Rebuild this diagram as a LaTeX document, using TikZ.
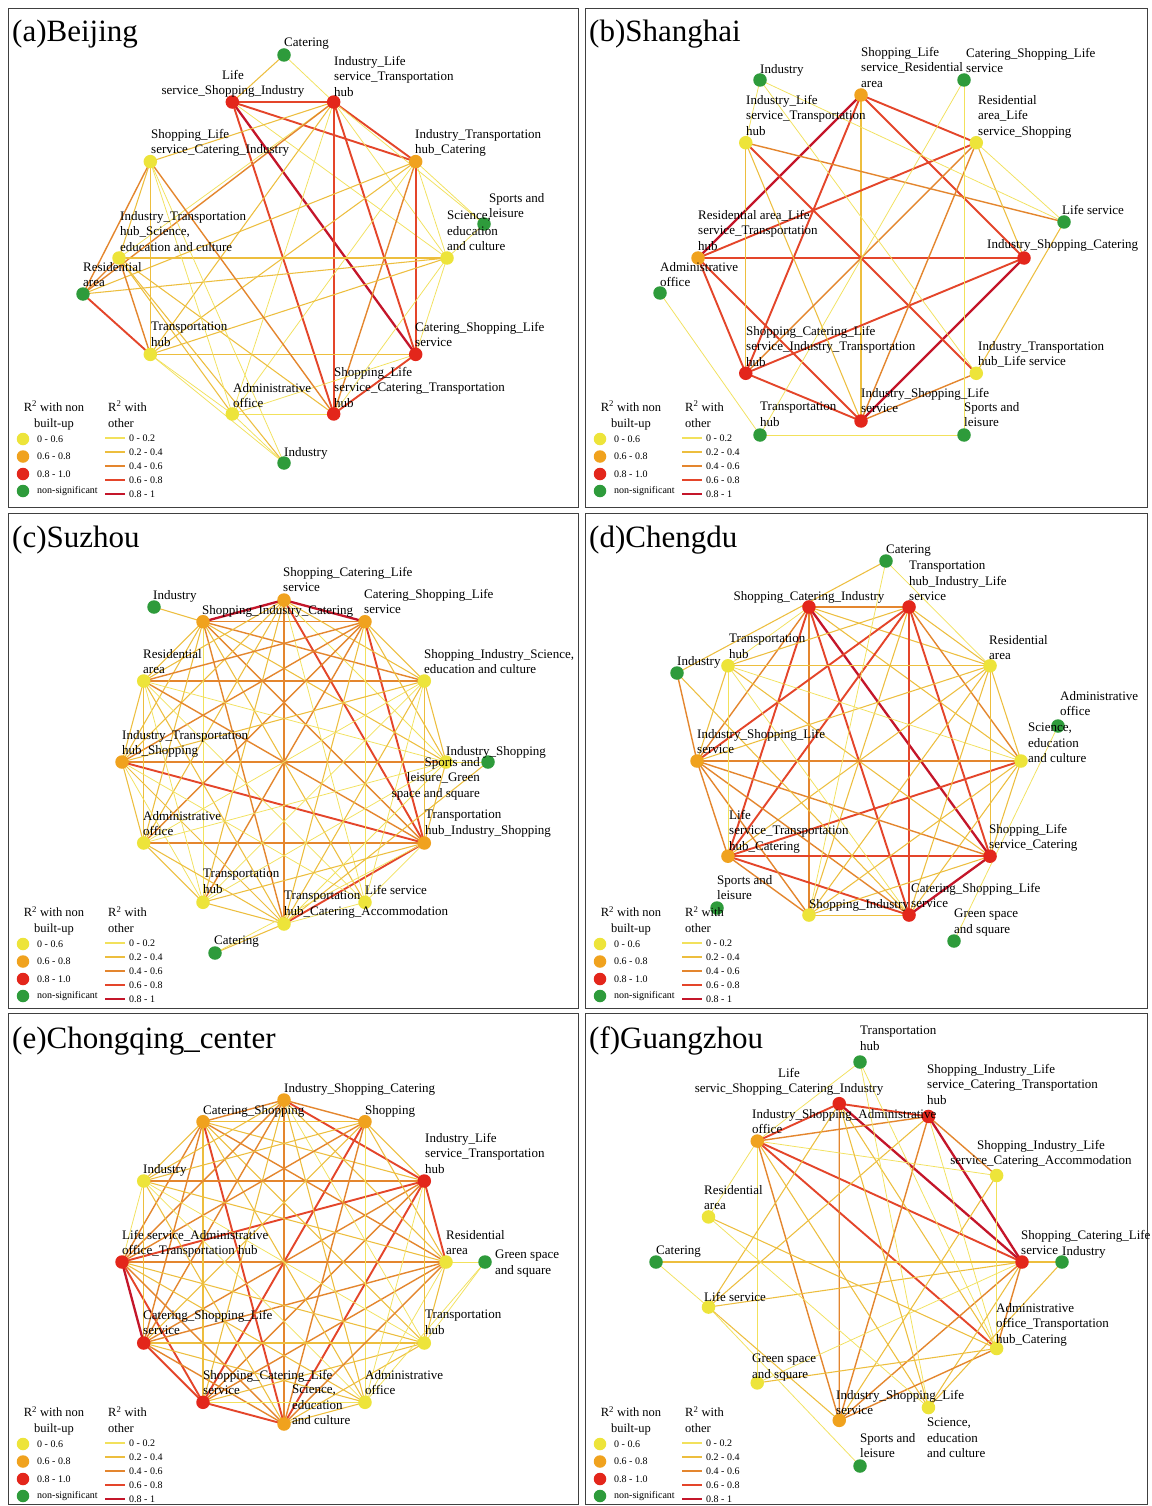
\documentclass[tikz,border=0pt]{standalone}
\usepackage{fontspec}
\setmainfont{Liberation Serif}
\usetikzlibrary{calc}
\pgfdeclarelayer{bgl}
\pgfdeclarelayer{edges}
\pgfsetlayers{bgl,edges,main}
\definecolor{cy}{HTML}{EDE43A}
\definecolor{co}{HTML}{F0A21E}
\definecolor{cr}{HTML}{E3261B}
\definecolor{cg}{HTML}{2E9B3B}
\definecolor{l1}{HTML}{F2E15C}
\definecolor{l2}{HTML}{EDBE3E}
\definecolor{l3}{HTML}{E4862E}
\definecolor{l4}{HTML}{E4452A}
\definecolor{l5}{HTML}{C4162A}
\tikzset{
 nd/.style={circle,inner sep=0pt,minimum size=13.5pt},
 ny/.style={nd,fill=cy}, no/.style={nd,fill=co}, nr/.style={nd,fill=cr}, ng/.style={nd,fill=cg},
 w1/.style={draw=l1,line width=0.75pt},
 w2/.style={draw=l2,line width=1.05pt},
 w3/.style={draw=l3,line width=1.4pt},
 w4/.style={draw=l4,line width=1.9pt},
 w5/.style={draw=l5,line width=2.3pt},
 lab/.style={font=\fontsize{13}{15.4}\selectfont,inner sep=0pt,align=left},
 ttl/.style={font=\fontsize{31}{32}\selectfont,inner sep=0pt,anchor=base west},
 lgh/.style={font=\fontsize{12.5}{16}\selectfont,inner sep=0pt,align=center},
 lgt/.style={font=\fontsize{10}{11}\selectfont,inner sep=0pt,anchor=west},
 panelbox/.style={draw=black!75,line width=0.9pt},
}
\newcounter{lbc}
\newcommand\rn[5]{\node[#1] (#2) at ($(#3)+(#4:#5pt)$) {};}
\newcommand\LL[3]{\stepcounter{lbc}\node[lab,anchor=north west] (t\arabic{lbc}) at (#1,#2-5) {#3};}
\newcommand\LC[3]{\stepcounter{lbc}\node[lab,align=center,anchor=north] (t\arabic{lbc}) at (#1,#2-5) {#3};}
\newcommand\LR[3]{\stepcounter{lbc}\node[lab,align=right,anchor=north east] (t\arabic{lbc}) at (#1,#2-5) {#3};}
\newcommand\lgnd[2]{%
\stepcounter{lbc}%
\node[lgh,anchor=north] (h\arabic{lbc}a) at (#1+46,#2+393) {R\textsuperscript{2} with non\\built-up};
\node[lgh,align=left,anchor=north west] (h\arabic{lbc}b) at (#1+100,#2+393) {R\textsuperscript{2} with\\other};
\node[ny,minimum size=12.5pt] (h\arabic{lbc}c) at (#1+15,#2+431) {};
\node[no,minimum size=12.5pt] (h\arabic{lbc}d) at (#1+15,#2+448.5) {};
\node[nr,minimum size=12.5pt] (h\arabic{lbc}e) at (#1+15,#2+466) {};
\node[ng,minimum size=12.5pt] (h\arabic{lbc}f) at (#1+15,#2+483) {};
\node[lgt] (h\arabic{lbc}g) at (#1+29,#2+431) {0 - 0.6};
\node[lgt] (h\arabic{lbc}h) at (#1+29,#2+448.5) {0.6 - 0.8};
\node[lgt] (h\arabic{lbc}i) at (#1+29,#2+466) {0.8 - 1.0};
\node[lgt] (h\arabic{lbc}j) at (#1+29,#2+483) {non-significant};
\coordinate (h\arabic{lbc}p1) at (#1+97,#2+430); \coordinate (h\arabic{lbc}q1) at (#1+117,#2+430);
\coordinate (h\arabic{lbc}p2) at (#1+97,#2+444); \coordinate (h\arabic{lbc}q2) at (#1+117,#2+444);
\coordinate (h\arabic{lbc}p3) at (#1+97,#2+458); \coordinate (h\arabic{lbc}q3) at (#1+117,#2+458);
\coordinate (h\arabic{lbc}p4) at (#1+97,#2+472); \coordinate (h\arabic{lbc}q4) at (#1+117,#2+472);
\coordinate (h\arabic{lbc}p5) at (#1+97,#2+486); \coordinate (h\arabic{lbc}q5) at (#1+117,#2+486);
\draw[w1,line width=1.3pt] (h\arabic{lbc}p1) -- (h\arabic{lbc}q1);
\draw[w2,line width=1.4pt] (h\arabic{lbc}p2) -- (h\arabic{lbc}q2);
\draw[w3,line width=1.6pt] (h\arabic{lbc}p3) -- (h\arabic{lbc}q3);
\draw[w4,line width=1.8pt] (h\arabic{lbc}p4) -- (h\arabic{lbc}q4);
\draw[w5,line width=2pt] (h\arabic{lbc}p5) -- (h\arabic{lbc}q5);
\node[lgt] (h\arabic{lbc}k) at (#1+121,#2+430) {0 - 0.2};
\node[lgt] (h\arabic{lbc}l) at (#1+121,#2+444) {0.2 - 0.4};
\node[lgt] (h\arabic{lbc}m) at (#1+121,#2+458) {0.4 - 0.6};
\node[lgt] (h\arabic{lbc}n) at (#1+121,#2+472) {0.6 - 0.8};
\node[lgt] (h\arabic{lbc}o) at (#1+121,#2+486) {0.8 - 1};
}
\begin{document}
\begin{tikzpicture}[x=1pt,y=-1pt]
\begin{pgfonlayer}{bgl}
\fill[white] (0,0) rectangle (1151,1506);
\end{pgfonlayer}
\useasboundingbox (0,0) rectangle (1151,1506);
% panel frames
\draw[panelbox] (8,8) rectangle (578,507);
\draw[panelbox] (585,8) rectangle (1147,507);
\draw[panelbox] (8,513) rectangle (578,1008);
\draw[panelbox] (585,513) rectangle (1147,1008);
\draw[panelbox] (8,1013) rectangle (578,1504);
\draw[panelbox] (585,1013) rectangle (1147,1504);
% ---------- (a) Beijing
\coordinate (cA) at (283,258);
\rn{ny}{A0}{cA}{0}{164} \rn{no}{A1}{cA}{36}{164} \rn{nr}{A2}{cA}{72}{164}
\rn{nr}{A3}{cA}{108}{164} \rn{ny}{A4}{cA}{144}{164} \rn{ny}{A5}{cA}{180}{164}
\rn{ny}{A6}{cA}{216}{164} \rn{ny}{A7}{cA}{252}{164} \rn{nr}{A8}{cA}{288}{164}
\rn{nr}{A9}{cA}{324}{164}
\node[ng] (aCat) at (284,55) {}; \node[ng] (aInd) at (284,463) {};
\node[ng] (aRes) at (83,294) {}; \node[ng] (aSpo) at (484,224) {};
% ---------- (b) Shanghai
\coordinate (cB) at (861,258);
\rn{nr}{B0}{cB}{0}{163} \rn{ny}{B1}{cB}{45}{163} \rn{no}{B2}{cB}{90}{163}
\rn{ny}{B3}{cB}{135}{163} \rn{no}{B4}{cB}{180}{163} \rn{nr}{B5}{cB}{225}{163}
\rn{nr}{B6}{cB}{270}{163} \rn{ny}{B7}{cB}{315}{163}
\node[ng] (bInd) at (760,80) {}; \node[ng] (bCat) at (964,80) {};
\node[ng] (bLife) at (1064,222) {}; \node[ng] (bAdm) at (660,293) {};
\node[ng] (bTra) at (760,435) {}; \node[ng] (bSpo) at (964,435) {};
% ---------- (c) Suzhou
\coordinate (cC) at (284,762);
\rn{ny}{C0}{cC}{0}{162} \rn{ny}{C1}{cC}{30}{162} \rn{no}{C2}{cC}{60}{162}
\rn{no}{C3}{cC}{90}{162} \rn{no}{C4}{cC}{120}{162} \rn{ny}{C5}{cC}{150}{162}
\rn{no}{C6}{cC}{180}{162} \rn{ny}{C7}{cC}{210}{162} \rn{ny}{C8}{cC}{240}{162}
\rn{ny}{C9}{cC}{270}{162} \rn{ny}{C10}{cC}{300}{162} \rn{no}{C11}{cC}{330}{162}
\node[ng] (cInd) at (154,607) {}; \node[ng] (cIS) at (488,762) {};
\node[ng] (cCat) at (215,953) {};
% ---------- (d) Chengdu
\coordinate (cD) at (859,761);
\rn{ny}{D0}{cD}{0}{162} \rn{ny}{D1}{cD}{36}{162} \rn{nr}{D2}{cD}{72}{162}
\rn{nr}{D3}{cD}{108}{162} \rn{ny}{D4}{cD}{144}{162} \rn{no}{D5}{cD}{180}{162}
\rn{no}{D6}{cD}{216}{162} \rn{ny}{D7}{cD}{252}{162} \rn{nr}{D8}{cD}{288}{162}
\rn{nr}{D9}{cD}{324}{162}
\node[ng] (dCat) at (886,561) {}; \node[ng] (dInd) at (677,673) {};
\node[ng] (dAdm) at (1058,726) {}; \node[ng] (dSpo) at (717,908) {};
\node[ng] (dGre) at (954,941) {};
% ---------- (e) Chongqing
\coordinate (cE) at (284,1262);
\rn{ny}{E0}{cE}{0}{162} \rn{nr}{E1}{cE}{30}{162} \rn{no}{E2}{cE}{60}{162}
\rn{no}{E3}{cE}{90}{162} \rn{no}{E4}{cE}{120}{162} \rn{ny}{E5}{cE}{150}{162}
\rn{nr}{E6}{cE}{180}{162} \rn{nr}{E7}{cE}{210}{162} \rn{nr}{E8}{cE}{240}{162}
\rn{no}{E9}{cE}{270}{162} \rn{ny}{E10}{cE}{300}{162} \rn{ny}{E11}{cE}{330}{162}
\node[ng] (eGre) at (485,1262) {};
% ---------- (f) Guangzhou
\coordinate (cF) at (862,1262);
\rn{nr}{F0}{cF}{0}{160} \rn{ny}{F1}{cF}{360/11}{160} \rn{nr}{F2}{cF}{720/11}{160}
\rn{nr}{F3}{cF}{1080/11}{160} \rn{no}{F4}{cF}{1440/11}{160} \rn{ny}{F5}{cF}{1800/11}{160}
\rn{ny}{F6}{cF}{2160/11}{160} \rn{ny}{F7}{cF}{2520/11}{160} \rn{no}{F8}{cF}{2880/11}{160}
\rn{ny}{F9}{cF}{3240/11}{160} \rn{ny}{F10}{cF}{3600/11}{160}
\node[ng] (fTra) at (860,1062) {}; \node[ng] (fCat) at (656,1262) {};
\node[ng] (fInd) at (1062,1262) {}; \node[ng] (fSpo) at (860,1466) {};
% ---------- edges
\begin{pgfonlayer}{edges}
\foreach \a/\b/\w in {A3/A2/w4,A3/A1/w4,A3/A9/w5,A3/A8/w4,A3/A0/w1,A2/A1/w4,
 A2/A8/w4,A2/A9/w4,A2/A0/w1,A2/A4/w2,A2/A5/w1,A2/aRes/w3,A2/A7/w1,A2/A6/w2,A2/aCat/w1,A2/aSpo/w1,
 aCat/A3/w2,A1/A9/w4,A1/A8/w3,A1/A0/w1,A1/A6/w2,A1/aRes/w2,A1/aSpo/w1,A1/A7/w1,
 A0/A5/w2,A0/aRes/w2,A0/A6/w2,A0/A9/w1,A0/A8/w1,A0/aSpo/w1,
 A9/A6/w2,A9/A7/w1,A9/A8/w4,A8/A7/w1,A8/A4/w3,A8/A5/w2,
 A7/A5/w2,A7/aInd/w1,aInd/A5/w2,aInd/A4/w1,A7/A4/w1,A4/A5/w2,A4/aRes/w3,A4/A6/w2,
 A5/aRes/w3,A5/A6/w3,aRes/A6/w4,A6/A7/w1,A6/aInd/w1}
 \draw[\w] (\a.center) -- (\b.center);
\foreach \a/\b/\w in {B4/B0/w4,B2/B4/w5,B2/B5/w4,B2/B6/w2,B2/B1/w4,B2/B0/w4,B4/B1/w4,B4/B5/w4,
 B4/B6/w4,B5/B0/w4,B5/B6/w4,B6/B0/w5,B6/B7/w3,B3/B5/w2,B3/B7/w4,B3/B6/w2,B3/bLife/w3,
 B1/B5/w3,B1/B6/w3,B1/B0/w2,bInd/B3/w1,bInd/bLife/w1,bInd/B7/w1,bCat/bSpo/w1,bCat/bTra/w1,
 bLife/B1/w1,bLife/B7/w2,bAdm/bTra/w1,bTra/bSpo/w1}
 \draw[\w] (\a.center) -- (\b.center);
\foreach \a/\b/\w in {C3/C4/w5,C3/C2/w5,C4/C2/w3,C3/C11/w4,C2/C11/w4,C6/C11/w4,C11/C9/w4,
 C3/C9/w3,C6/C0/w3,C5/C1/w3,C7/C11/w3,C4/C1/w3,C4/C11/w3,C4/C9/w3,C4/C5/w2,C4/C6/w2,C4/C7/w2,
 C4/C8/w1,C4/C10/w2,C4/C0/w2,C3/C5/w2,C3/C6/w2,C3/C7/w2,C3/C8/w2,C3/C1/w2,C3/C0/w1,C3/C10/w1,
 C2/C5/w3,C2/C6/w3,C2/C7/w3,C2/C8/w3,C2/C10/w1,C2/C1/w2,C2/C0/w2,C2/C9/w2,
 C5/C11/w3,C5/C6/w2,C5/C7/w2,C5/C9/w2,C5/C10/w1,C5/C0/w1,C5/C8/w1,
 C6/C7/w2,C6/C1/w2,C6/C9/w2,C6/C8/w1,C6/C10/w1,C7/C9/w2,C7/C8/w2,C7/C1/w1,C7/C0/w1,
 C8/C9/w2,C8/C11/w2,C8/C1/w1,C8/C0/w1,C9/C1/w2,C9/C10/w1,C9/C0/w1,C10/C11/w1,C10/C1/w1,
 C11/C0/w2,C11/C1/w2,C1/C0/w2,cInd/C4/w2,cIS/C9/w2,cIS/C0/w1,cCat/C9/w2,cCat/C11/w1}
 \draw[\w] (\a.center) -- (\b.center);
\foreach \a/\b/\w in {D3/D9/w5,D3/D2/w3,D3/D7/w3,D3/D8/w4,D3/D6/w4,D3/D5/w3,D3/D0/w2,D3/D1/w2,D3/D4/w1,
 D2/D8/w4,D2/D6/w4,D2/D5/w4,D2/D9/w4,D2/D0/w3,D2/D1/w2,D2/D4/w2,D2/D7/w2,
 D6/D0/w4,D6/D9/w4,D6/D8/w4,D6/D7/w3,D6/D5/w3,D6/D1/w2,
 D9/D8/w5,D9/D5/w3,D9/D1/w2,D9/D0/w2,D9/D4/w2,D9/D7/w2,
 D5/D0/w3,D5/D7/w3,D5/D8/w3,D5/D1/w2,D5/D4/w2,D4/D1/w2,D4/D0/w1,D4/D8/w1,D4/D6/w1,
 D1/D0/w2,D1/D7/w2,D1/D8/w2,D0/D8/w2,D0/D7/w2,D7/D8/w2,
 dCat/dInd/w2,dCat/D7/w1,dCat/D1/w1,dInd/D5/w3,dInd/D8/w2,dAdm/dGre/w1}
 \draw[\w] (\a.center) -- (\b.center);
\foreach \a/\b/\w in {E6/E7/w5,E1/E0/w4,E3/E1/w4,E3/E2/w3,E4/E3/w3,E1/E6/w4,E1/E9/w4,E1/E7/w3,E1/E8/w3,
 E2/E8/w4,E4/E9/w4,E6/E8/w4,E6/E0/w3,E5/E1/w3,E3/E9/w3,E7/E8/w4,E8/E9/w4,E7/E9/w3,E0/E7/w3,E0/E8/w3,
 E4/E0/w3,E4/E1/w2,E4/E5/w2,E4/E6/w3,E4/E7/w3,E4/E8/w2,E4/E10/w2,E4/E11/w2,E4/E2/w2,
 E3/E5/w2,E3/E6/w3,E3/E7/w3,E3/E8/w2,E3/E10/w2,E3/E11/w1,E3/E0/w2,
 E2/E5/w2,E2/E6/w3,E2/E7/w2,E2/E9/w3,E2/E10/w1,E2/E0/w2,E2/E1/w2,
 E5/E6/w1,E5/E7/w2,E5/E9/w2,E5/E0/w2,E5/E11/w1,E5/E10/w1,
 E6/E9/w3,E6/E11/w2,E6/E10/w2,E7/E11/w2,E7/E10/w2,E8/E10/w1,E8/E11/w2,
 E9/E10/w2,E9/E11/w2,E9/E0/w3,E10/E0/w1,E11/E0/w2,E11/E1/w2,E10/E1/w1,
 E0/eGre/w1,E11/eGre/w1,E10/eGre/w1}
 \draw[\w] (\a.center) -- (\b.center);
\foreach \a/\b/\w in {F3/F2/w4,F3/F4/w4,F3/F0/w5,F2/F0/w5,F4/F0/w4,F4/F10/w4,F4/F2/w3,F4/F8/w3,
 F3/F8/w3,F2/F8/w3,F2/F1/w3,F2/F10/w1,F2/F6/w2,F0/F8/w3,F0/F9/w2,F0/F10/w3,F0/F6/w2,F0/F7/w1,
 F4/F1/w1,F4/F9/w2,F4/F7/w1,F4/F5/w1,F3/F10/w2,F3/F9/w2,F3/F6/w2,F5/F10/w2,F6/F8/w2,F6/fCat/w1,
 fCat/F0/w2,F7/F10/w2,F8/F10/w3,F8/F1/w2,F1/F10/w1,fTra/F4/w1,fTra/F9/w1,fTra/F10/w1,
 fSpo/F6/w1,fInd/F9/w2,F0/fInd/w2,F5/F9/w1}
 \draw[\w] (\a.center) -- (\b.center);
\end{pgfonlayer}
% ---------- titles
\node[ttl] (ta) at (12,42) {(a)Beijing};
\node[ttl] (tb) at (589,42) {(b)Shanghai};
\node[ttl] (tc) at (12,547) {(c)Suzhou};
\node[ttl] (td) at (589,547) {(d)Chengdu};
\node[ttl] (te) at (12,1048) {(e)Chongqing\_center};
\node[ttl] (tf) at (589,1048) {(f)Guangzhou};
% ---------- labels (a)
\LL{284}{43}{Catering}
\LC{233}{75}{Life\\service\_Shopping\_Industry}
\LL{334}{61}{Industry\_Life\\service\_Transportation\\hub}
\LL{151}{134}{Shopping\_Life\\service\_Catering\_Industry}
\LL{415}{134}{Industry\_Transportation\\hub\_Catering}
\LL{489}{198}{Sports and\\leisure}
\LL{447}{216}{Science,\\education\\and culture}
\LL{120}{216}{Industry\_Transportation\\hub\_Science,\\education and culture}
\LL{83}{267}{Residential\\area}
\LL{151}{327}{Transportation\\hub}
\LL{415}{327}{Catering\_Shopping\_Life\\service}
\LL{233}{388}{Administrative\\office}
\LL{334}{372}{Shopping\_Life\\service\_Catering\_Transportation\\hub}
\LL{284}{452}{Industry}
% ---------- labels (b)
\LL{760}{69}{Industry}
\LL{861}{52}{Shopping\_Life\\service\_Residential\\area}
\LL{966}{53}{Catering\_Shopping\_Life\\service}
\LL{746}{100}{Industry\_Life\\service\_Transportation\\hub}
\LL{978}{100}{Residential\\area\_Life\\service\_Shopping}
\LL{1062}{210}{Life service}
\LL{987}{244}{Industry\_Shopping\_Catering}
\LL{698}{215}{Residential area\_Life\\service\_Transportation\\hub}
\LL{660}{267}{Administrative\\office}
\LL{746}{331}{Shopping\_Catering\_Life\\service\_Industry\_Transportation\\hub}
\LL{978}{346}{Industry\_Transportation\\hub\_Life service}
\LL{861}{393}{Industry\_Shopping\_Life\\service}
\LL{760}{407}{Transportation\\hub}
\LL{964}{407}{Sports and\\leisure}
% ---------- labels (c)
\LL{153}{595}{Industry}
\LL{283}{572}{Shopping\_Catering\_Life\\service}
\LL{202}{610}{Shopping\_Industry\_Catering}
\LL{364}{594}{Catering\_Shopping\_Life\\service}
\LL{143}{654}{Residential\\area}
\LL{424}{654}{Shopping\_Industry\_Science,\\education and culture}
\LL{122}{735}{Industry\_Transportation\\hub\_Shopping}
\LL{446}{751}{Industry\_Shopping}
\LR{480}{762}{Sports and\\leisure\_Green\\space and square}
\LL{425}{815}{Transportation\\hub\_Industry\_Shopping}
\LL{143}{816}{Administrative\\office}
\LL{203}{874}{Transportation\\hub}
\LL{365}{890}{Life service}
\LL{284}{896}{Transportation\\hub\_Catering\_Accommodation}
\LL{214}{941}{Catering}
% ---------- labels (d)
\LL{886}{550}{Catering}
\LL{909}{566}{Transportation\\hub\_Industry\_Life\\service}
\LC{809}{596}{Shopping\_Catering\_Industry}
\LL{729}{639}{Transportation\\hub}
\LL{677}{661}{Industry}
\LL{989}{640}{Residential\\area}
\LL{1060}{696}{Administrative\\office}
\LL{1028}{728}{Science,\\education\\and culture}
\LL{697}{734}{Industry\_Shopping\_Life\\service}
\LL{729}{815}{Life\\service\_Transportation\\hub\_Catering}
\LL{989}{829}{Shopping\_Life\\service\_Catering}
\LL{717}{880}{Sports and\\leisure}
\LL{809}{904}{Shopping\_Industry}
\LL{911}{888}{Catering\_Shopping\_Life\\service}
\LL{954}{914}{Green space\\and square}
% ---------- labels (e)
\LL{284}{1088}{Industry\_Shopping\_Catering}
\LL{203}{1110}{Catering\_Shopping}
\LL{365}{1110}{Shopping}
\LL{143}{1169}{Industry}
\LL{425}{1138}{Industry\_Life\\service\_Transportation\\hub}
\LL{122}{1235}{Life service\_Administrative\\office\_Transportation hub}
\LL{446}{1235}{Residential\\area}
\LL{495}{1255}{Green space\\and square}
\LL{143}{1315}{Catering\_Shopping\_Life\\service}
\LL{425}{1315}{Transportation\\hub}
\LL{203}{1375}{Shopping\_Catering\_Life\\service}
\LL{365}{1375}{Administrative\\office}
\LL{292}{1390}{Science,\\education\\and culture}
% ---------- labels (f)
\LL{860}{1031}{Transportation\\hub}
\LC{789}{1073}{Life\\servic\_Shopping\_Catering\_Industry}
\LL{927}{1069}{Shopping\_Industry\_Life\\service\_Catering\_Transportation\\hub}
\LL{752}{1114}{Industry\_Shopping\_Administrative\\office}
\LC{1041}{1145}{Shopping\_Industry\_Life\\service\_Catering\_Accommodation}
\LL{704}{1190}{Residential\\area}
\LL{656}{1251}{Catering}
\LL{1021}{1235}{Shopping\_Catering\_Life\\service}
\LL{1062}{1251}{Industry}
\LL{704}{1297}{Life service}
\LL{996}{1308}{Administrative\\office\_Transportation\\hub\_Catering}
\LL{752}{1359}{Green space\\and square}
\LL{836}{1395}{Industry\_Shopping\_Life\\service}
\LL{927}{1423}{Science,\\education\\and culture}
\LL{860}{1438}{Sports and\\leisure}
% ---------- legends
\lgnd{8}{8}
\lgnd{585}{8}
\lgnd{8}{513}
\lgnd{585}{513}
\lgnd{8}{1013}
\lgnd{585}{1013}
\end{tikzpicture}
\end{document}
